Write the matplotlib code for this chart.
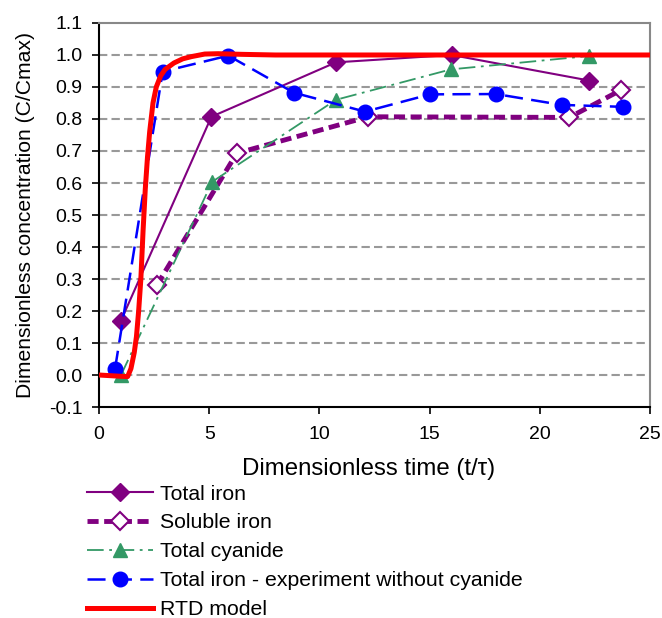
import matplotlib
matplotlib.use("Agg")
import matplotlib.pyplot as plt
from matplotlib.ticker import MultipleLocator, FormatStrFormatter

plt.rcParams['font.family'] = ['Liberation Sans', 'DejaVu Sans']
plt.rcParams['lines.scale_dashes'] = False

# Data
total_iron_x = [1.0, 5.1, 10.75, 16.0, 22.25]
total_iron_y = [0.17, 0.807, 0.977, 1.0, 0.92]

soluble_iron_x = [2.62, 6.25, 12.22, 21.34, 23.67]
soluble_iron_y = [0.28, 0.693, 0.807, 0.805, 0.89]

cyanide_x = [1.0, 5.14, 10.75, 15.96, 22.25]
cyanide_y = [0.0, 0.604, 0.86, 0.955, 0.997]

nocn_x = [0.73, 2.89, 5.87, 8.85, 12.07, 15.02, 18.01, 20.99, 23.76]
nocn_y = [0.02, 0.948, 0.998, 0.882, 0.823, 0.877, 0.878, 0.844, 0.838]

rtd_x = [0.0, 0.5, 1.0, 1.3, 1.45, 1.6, 1.7, 1.8, 1.9, 2.0, 2.1, 2.2, 2.3,
         2.45, 2.6, 2.8, 3.0, 3.4, 3.8, 4.2, 4.8, 5.4, 6.5, 8.0, 10.0, 25.0]
rtd_y = [0.0, -0.002, -0.004, -0.005, 0.02, 0.07, 0.12, 0.2, 0.3, 0.45, 0.58,
         0.68, 0.76, 0.85, 0.9, 0.935, 0.955, 0.975, 0.988, 0.995, 1.003, 1.004,
         1.002, 1.0, 1.0, 1.0]

fig = plt.figure(figsize=(6.62, 6.18), dpi=100)
ax = fig.add_axes([0.1495, 0.3414, 0.8325, 0.6214])

purple = '#800080'
green = '#339966'
blue = '#0000FF'
red = '#FF0000'

ax.plot(total_iron_x, total_iron_y, color=purple, lw=1.5, marker='D', ms=9,
        mfc=purple, mec=purple, label='Total iron', zorder=3)
ax.plot(soluble_iron_x, soluble_iron_y, color=purple, lw=3.5, dashes=(8, 4),
        marker='D', ms=9, mfc='white', mec=purple, mew=1.5, label='Soluble iron', zorder=3)
ax.plot(cyanide_x, cyanide_y, color=green, lw=1.3, dashes=(12, 4, 2, 4),
        marker='^', ms=10, mfc=green, mec=green, label='Total cyanide', zorder=3)
ax.plot(nocn_x, nocn_y, color=blue, lw=1.8, dashes=(13, 6),
        marker='o', ms=10.5, mfc=blue, mec=blue,
        label='Total iron - experiment without cyanide', zorder=3)
ax.plot(rtd_x, rtd_y, color=red, lw=3.6, label='RTD model', zorder=4,
        solid_joinstyle='round')

ax.set_xlim(0, 25)
ax.set_ylim(-0.1, 1.1)
ax.xaxis.set_major_locator(MultipleLocator(5))
ax.yaxis.set_major_locator(MultipleLocator(0.1))
ax.yaxis.set_major_formatter(FormatStrFormatter('%.1f'))

for yv in [0.0, 0.1, 0.2, 0.3, 0.4, 0.5, 0.6, 0.7, 0.8, 0.9, 1.0]:
    ax.axhline(yv, color='#999999', lw=1.5, dashes=(6, 3), zorder=1)

for s in ['left', 'bottom']:
    ax.spines[s].set_color('black')
    ax.spines[s].set_linewidth(1.5)
for s in ['top', 'right']:
    ax.spines[s].set_color('#888888')
    ax.spines[s].set_linewidth(1.5)

ax.tick_params(axis='both', direction='out', length=5, width=1.2, labelsize=14,
               top=False, right=False)
ax.tick_params(axis='x', pad=9)
ax.tick_params(axis='y', pad=7)

ax.set_xlabel('Dimensionless time (t/τ)', fontsize=17.3)
ax.xaxis.set_label_coords(0.49, -0.161, transform=ax.transAxes)
ax.xaxis.label.set_va('center')
ax.set_ylabel('Dimensionless concentration (C/Cmax)', fontsize=15.2, labelpad=10)

leg = fig.legend(loc='upper left', frameon=False, fontsize=15.3, handlelength=3.1,
                 handletextpad=0.33, labelspacing=0.47, numpoints=1, borderaxespad=0,
                 borderpad=0)
leg.set_bbox_to_anchor((0.132, 0.216), transform=fig.transFigure)

fig.savefig('out.png', dpi=100)
